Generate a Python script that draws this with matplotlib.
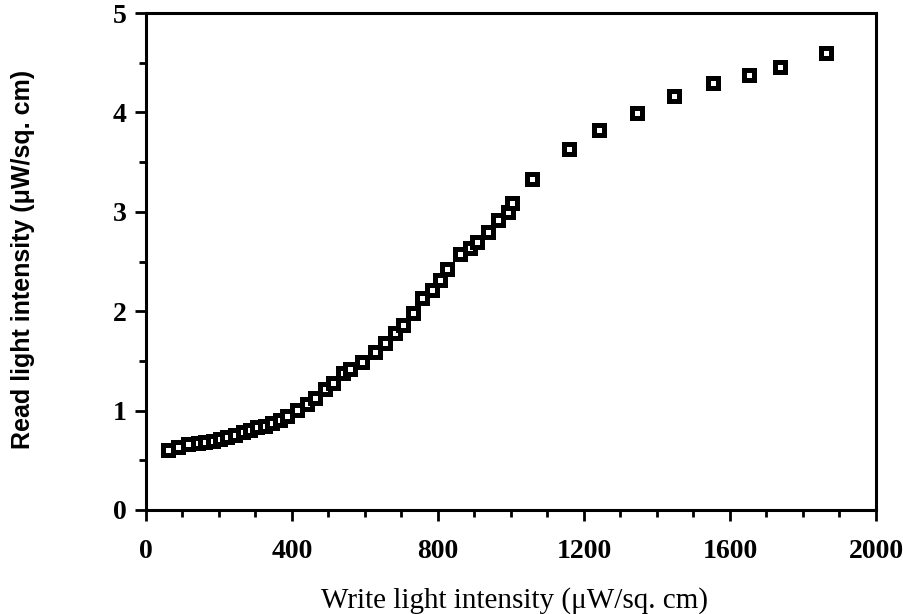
import numpy as np
import matplotlib
matplotlib.use("Agg")
import matplotlib.pyplot as plt
from matplotlib import ticker

# write light intensity (uW/sq. cm) vs read light intensity (uW/sq. cm)
write_I = [60, 88, 115, 142, 162, 184, 203, 222, 244, 266, 285, 304, 326, 345,
           367, 386, 413, 441, 463, 490, 512, 540, 559, 592, 627, 655, 682, 704,
           731, 756, 783, 805, 825, 860, 888, 907, 937, 964, 992, 1003,
           1057, 1159, 1241, 1345, 1447, 1553, 1652, 1737, 1863]
read_I = [0.60, 0.63, 0.66, 0.67, 0.68, 0.69, 0.71, 0.73, 0.75, 0.78, 0.80, 0.83, 0.85, 0.88,
          0.91, 0.95, 1.01, 1.07, 1.13, 1.22, 1.28, 1.38, 1.42, 1.49, 1.59, 1.68, 1.78, 1.86,
          1.98, 2.13, 2.21, 2.31, 2.42, 2.58, 2.64, 2.70, 2.80, 2.92, 3.00, 3.09,
          3.33, 3.63, 3.82, 3.99, 4.17, 4.30, 4.38, 4.46, 4.60]

x_ticks = [0, 400, 800, 1200, 1600, 2000]
y_ticks = [0, 1, 2, 3, 4, 5]

fig = plt.figure(figsize=(9.04, 6.14), dpi=100)
ax = fig.add_axes([0.1615, 0.1694, 0.8075, 0.8094])

ax.plot(write_I, read_I, 's', ms=7, mfc='white', mec='black', mew=3.6, ls='none')

ax.set_xlim(0, 2000)
ax.set_ylim(0, 5)
ax.set_xticks(x_ticks)
ax.set_yticks(y_ticks)
ax.xaxis.set_minor_locator(ticker.MultipleLocator(100))
ax.yaxis.set_minor_locator(ticker.MultipleLocator(0.5))

for s in ax.spines.values():
	s.set_linewidth(2.2)
ax.tick_params(which='major', direction='out', length=8, width=2, pad=6)
ax.tick_params(which='minor', direction='out', length=5, width=2)
ax.tick_params(axis='x', which='major', pad=13)
ax.tick_params(top=False, right=False)

for lab in ax.get_xticklabels() + ax.get_yticklabels():
	lab.set_family('Liberation Serif')
	lab.set_fontweight('bold')
	lab.set_fontsize(20)

ax.set_xlabel('Write light intensity (μW/sq. cm)', family='Liberation Serif', fontsize=21)
ax.set_ylabel('Read light intensity (μW/sq. cm)', family='Liberation Sans', fontsize=18, fontweight='bold')
ax.xaxis.set_label_coords(0.505, -0.155)
ax.yaxis.set_label_coords(-0.152, 0.505)

fig.savefig('out.png', dpi=100)
